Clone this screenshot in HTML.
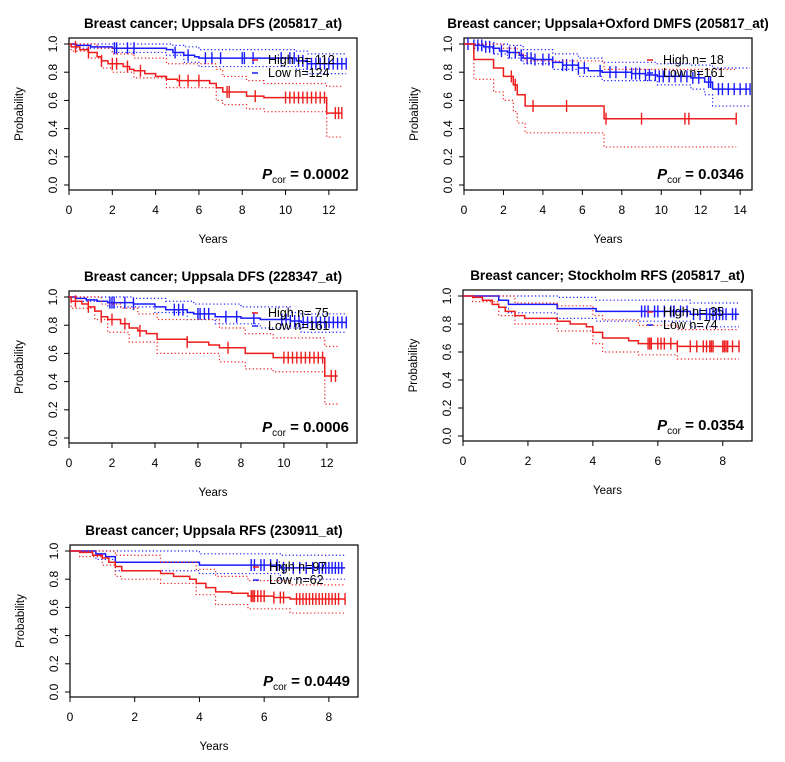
<!DOCTYPE html>
<html><head><meta charset="utf-8">
<style>
html,body{margin:0;padding:0;background:#fff;}
svg{display:block;font-family:"Liberation Sans",Arial,sans-serif;}
</style></head>
<body>
<svg id="chart" width="785" height="762" viewBox="0 0 785 762"></svg>
<script>
// ---- Panel 1 data ----
const p1Title = "Breast cancer; Uppsala DFS (205817_at)";
const p1HighLabel = "High n= 112", p1LowLabel = "Low  n=124", p1P = "0.0002";
const p1HighT = [0,0.1,0.5,0.9,1.3,1.5,1.8,2.5,2.8,3.0,3.5,4.0,4.5,5.0,6.5,6.8,7.1,8.2,9.0,11.9,12.6];
const p1HighS = [1,0.98,0.96,0.94,0.91,0.88,0.86,0.84,0.82,0.81,0.79,0.77,0.75,0.74,0.72,0.69,0.66,0.63,0.62,0.51,0.51];
const p1HighLoT = [0,0.1,0.9,1.5,2.0,3.0,4.5,6.8,7.1,8.2,9.0,11.9,12.6];
const p1HighLoS = [1,0.95,0.9,0.83,0.8,0.76,0.69,0.6,0.57,0.54,0.52,0.34,0.34];
const p1HighUpT = [0,1.3,2.0,3.0,4.5,6.8,7.1,8.2,9.0,11.9,12.6];
const p1HighUpS = [1,0.97,0.93,0.9,0.86,0.82,0.77,0.74,0.72,0.7,0.7];
const p1HighC = [0.3,0.9,1.5,2.0,2.2,2.7,3.3,5.1,5.5,6.0,7.3,7.4,8.6,10.0,10.2,10.4,10.6,10.8,11.0,11.2,11.4,11.6,11.8,12.3,12.45,12.6];
const p1LowT = [0,0.3,1.0,2.0,4.5,4.8,5.3,5.8,6.0,10.5,11.0,12.8];
const p1LowS = [1,0.99,0.98,0.97,0.96,0.94,0.92,0.91,0.90,0.88,0.86,0.86];
const p1LowLoT = [0,0.3,2.0,4.5,5.3,6.0,10.5,11.0,12.8];
const p1LowLoS = [1,0.97,0.94,0.92,0.87,0.84,0.82,0.79,0.79];
const p1LowUpT = [0,4.8,5.3,6.0,10.5,11.0,12.8];
const p1LowUpS = [1,0.99,0.98,0.96,0.95,0.93,0.93];
const p1LowC = [2.1,2.2,2.7,3.0,4.9,5.5,6.3,6.6,7.0,8.0,8.1,8.5,9.8,10.2,10.4,10.6,10.8,11.0,11.2,11.4,11.6,11.8,12.0,12.2,12.4,12.6,12.8];

// ---- Panel 2 data ----
const p2Title = "Breast cancer; Uppsala+Oxford DMFS (205817_at)";
const p2HighLabel = "High n= 18", p2LowLabel = "Low  n=161", p2P = "0.0346";
const p2HighT = [0,0.5,1.5,2.0,2.5,2.7,3.1,7.1,13.8];
const p2HighS = [1,0.89,0.83,0.77,0.71,0.64,0.56,0.47,0.47];
const p2HighLoT = [0,0.5,1.5,2.0,2.5,2.7,3.1,7.1,13.8];
const p2HighLoS = [1,0.75,0.66,0.6,0.52,0.44,0.37,0.27,0.27];
const p2HighUpT = [0,1.5,2.0,2.7,3.1,7.1,13.8];
const p2HighUpS = [1,1,0.97,0.93,0.88,0.82,0.82];
const p2HighC = [2.4,2.6,3.5,5.2,7.2,9.0,11.2,11.4,13.8];
const p2LowT = [0,0.5,1.0,1.5,1.8,2.2,2.8,3.0,3.5,4.5,5.0,5.8,6.3,7.0,8.5,9.2,9.8,11.5,12.2,12.6,14.5];
const p2LowS = [1,0.99,0.98,0.97,0.95,0.94,0.92,0.90,0.89,0.87,0.85,0.83,0.81,0.80,0.79,0.78,0.77,0.76,0.73,0.68,0.68];
const p2LowLoT = [0,0.5,1.5,2.2,3.0,4.5,5.8,7.0,9.8,11.5,12.2,12.6,14.5];
const p2LowLoS = [1,0.97,0.93,0.9,0.86,0.82,0.77,0.74,0.71,0.68,0.64,0.56,0.56];
const p2LowUpT = [0,2.2,3.0,4.5,5.8,7.0,9.8,11.5,12.6,14.5];
const p2LowUpS = [1,0.99,0.96,0.93,0.9,0.87,0.86,0.85,0.83,0.83];
const p2LowC = [0.2,0.5,0.7,0.9,1.1,1.3,1.5,1.9,2.3,2.6,2.9,3.2,3.4,3.6,4.0,4.3,4.5,5.0,5.2,5.5,5.8,6.1,6.9,7.4,7.7,8.2,8.5,8.7,8.9,9.2,9.4,9.7,9.9,10.1,10.4,10.7,11.0,11.3,11.6,11.9,12.4,12.5,12.9,13.1,13.4,13.7,14.0,14.3,14.5];

// ---- Panel 3 data ----
const p3Title = "Breast cancer; Uppsala DFS (228347_at)";
const p3HighLabel = "High n= 75", p3LowLabel = "Low  n=161", p3P = "0.0006";
const p3HighT = [0,0.1,0.6,0.9,1.2,1.5,1.8,2.4,2.8,3.2,3.6,4.1,5.5,6.5,7.0,8.2,9.5,11.9,12.5];
const p3HighS = [1,0.97,0.95,0.93,0.9,0.86,0.84,0.81,0.78,0.76,0.74,0.70,0.68,0.66,0.64,0.60,0.57,0.44,0.44];
const p3HighLoT = [0,0.1,1.2,1.8,2.8,4.1,7.0,8.2,9.5,11.9,12.5];
const p3HighLoS = [1,0.92,0.84,0.75,0.68,0.6,0.54,0.49,0.47,0.24,0.24];
const p3HighUpT = [0,1.5,2.4,3.2,4.1,7.0,8.2,9.5,11.9,12.5];
const p3HighUpS = [1,0.95,0.92,0.88,0.84,0.78,0.74,0.71,0.65,0.65];
const p3HighC = [0.3,0.9,1.5,2.0,2.6,3.3,5.5,7.4,10.0,10.2,10.4,10.6,10.8,11.0,11.2,11.4,11.6,11.8,12.2,12.4];
const p3LowT = [0,0.3,0.8,1.3,1.8,3.0,4.0,4.5,5.5,5.8,6.8,8.0,8.9,10.3,10.8,12.9];
const p3LowS = [1,0.99,0.98,0.97,0.96,0.95,0.93,0.91,0.89,0.88,0.86,0.85,0.84,0.83,0.82,0.82];
const p3LowLoT = [0,0.3,1.8,4.0,5.5,6.8,8.9,10.8,12.9];
const p3LowLoS = [1,0.97,0.93,0.89,0.84,0.81,0.78,0.75,0.75];
const p3LowUpT = [0,3.0,4.5,5.8,8.0,10.3,10.8,12.9];
const p3LowUpS = [1,0.99,0.97,0.95,0.93,0.89,0.88,0.88];
const p3LowC = [1.9,2.0,2.1,2.6,3.0,4.9,5.1,5.3,6.0,6.1,6.3,6.5,7.3,7.8,8.6,9.9,10.1,10.3,10.5,10.7,10.9,11.1,11.3,11.5,11.7,11.9,12.1,12.3,12.5,12.7,12.9];

// ---- Panel 4 data ----
const p4Title = "Breast cancer; Stockholm RFS (205817_at)";
const p4HighLabel = "High n= 35", p4LowLabel = "Low  n=74", p4P = "0.0354";
const p4HighT = [0,0.3,0.6,0.9,1.1,1.3,1.6,1.9,2.9,3.3,3.8,4.0,4.3,5.1,5.4,6.6,8.5];
const p4HighS = [1,0.99,0.97,0.94,0.92,0.89,0.86,0.84,0.82,0.80,0.78,0.74,0.70,0.68,0.66,0.64,0.64];
const p4HighLoT = [0,0.3,1.1,1.6,2.9,4.0,4.3,5.4,6.6,8.5];
const p4HighLoS = [1,0.96,0.86,0.8,0.75,0.66,0.6,0.58,0.55,0.55];
const p4HighUpT = [0,0.9,1.6,2.9,4.0,4.3,5.4,6.6,8.5];
const p4HighUpS = [1,1,0.95,0.93,0.86,0.83,0.79,0.76,0.76];
const p4HighC = [5.7,5.75,5.8,6.0,6.1,6.2,6.4,6.6,7.0,7.2,7.4,7.5,7.6,7.65,7.7,8.0,8.05,8.1,8.15,8.3,8.5];
const p4LowT = [0,1.1,1.4,2.9,4.1,7.0,8.5];
const p4LowS = [1,0.97,0.94,0.91,0.89,0.87,0.87];
const p4LowLoT = [0,1.1,1.4,2.9,4.1,7.0,8.5];
const p4LowLoS = [1,0.92,0.88,0.84,0.82,0.78,0.78];
const p4LowUpT = [0,2.9,4.1,7.0,8.5];
const p4LowUpS = [1,0.99,0.97,0.95,0.95];
const p4LowC = [5.5,5.6,5.7,5.9,6.0,6.2,6.4,6.5,6.7,6.9,7.1,7.3,7.5,7.6,7.7,7.8,7.9,8.0,8.1,8.3,8.4];

// ---- Panel 5 data ----
const p5Title = "Breast cancer; Uppsala RFS (230911_at)";
const p5HighLabel = "High n=97", p5LowLabel = "Low  n=62", p5P = "0.0449";
const p5HighT = [0,0.3,0.7,1.0,1.2,1.4,1.6,2.8,3.2,3.7,3.9,4.2,4.5,5.0,5.5,6.3,6.8,8.5];
const p5HighS = [1,0.99,0.97,0.95,0.92,0.89,0.86,0.84,0.82,0.80,0.77,0.74,0.71,0.70,0.68,0.67,0.66,0.66];
const p5HighLoT = [0,0.3,1.0,1.4,1.6,2.8,3.9,4.5,5.5,6.8,8.5];
const p5HighLoS = [1,0.96,0.9,0.82,0.8,0.77,0.69,0.62,0.59,0.56,0.56];
const p5HighUpT = [0,1.4,2.8,3.9,4.5,5.5,6.8,8.5];
const p5HighUpS = [1,0.97,0.92,0.87,0.82,0.79,0.76,0.76];
const p5HighC = [5.6,5.65,5.7,5.8,5.9,6.0,6.3,6.5,6.6,7.0,7.1,7.2,7.3,7.4,7.5,7.6,7.7,7.8,7.9,8.0,8.1,8.2,8.3,8.5];
const p5LowT = [0,0.8,1.1,1.4,4.0,6.5,8.5];
const p5LowS = [1,0.98,0.96,0.92,0.90,0.88,0.88];
const p5LowLoT = [0,0.8,1.4,4.0,6.5,8.5];
const p5LowLoS = [1,0.94,0.86,0.84,0.8,0.8];
const p5LowUpT = [0,4.0,6.5,8.5];
const p5LowUpS = [1,0.98,0.97,0.97];
const p5LowC = [5.6,5.7,5.9,6.0,6.2,6.4,6.6,6.9,7.1,7.3,7.5,7.7,7.8,7.9,8.0,8.1,8.2,8.3,8.4];

const yTicks = [0,0.2,0.4,0.6,0.8,1.0];
const yTickLabels = ["0.0","0.2","0.4","0.6","0.8","1.0"];

const NS = "http://www.w3.org/2000/svg";
const svg = document.getElementById('chart');
function mk(tag, attrs, parent){
  const e = document.createElementNS(NS, tag);
  for (const k in attrs) e.setAttribute(k, attrs[k]);
  (parent||svg).appendChild(e);
  return e;
}
function stepPath(T, S, sx, sy){
  let d = "M"+sx(T[0])+","+sy(S[0]);
  for (let i=1;i<T.length;i++){ d += " H"+sx(T[i])+" V"+sy(S[i]); }
  return d;
}
function survAt(T,S,t){ let s=S[0]; for(let i=0;i<T.length;i++){ if(T[i]<=t) s=S[i]; } return s; }

function panel(idx, L, T0, R, B, xmax, xTicks, title, hiL, loL, pval, d){
  const g = mk('g', {});
  
  
  const yTop = T0+6, yBot = B-5;
  const sx = t => L + (t/xmax)*(R-L);
  const sy = v => yBot - v*(yBot-yTop);
  const ti = mk('text', {x:(L+R)/2, y:T0-10, 'text-anchor':'middle', 'font-size':'13.5', 'font-weight':'bold', fill:'#000'}, g);
  ti.textContent = title;
  
  
  const bx = mk('rect', {x:L, y:T0, width:R-L, height:B-T0, fill:'none', stroke:'#000', 'stroke-width':'1.2'}, g);
  
  
  const ya = mk('g', {}, g);
  
  
  yTicks.forEach((v,i)=>{
    mk('line',{x1:L,x2:L-5,y1:sy(v),y2:sy(v),stroke:'#000'},ya);
    const tx = mk('text',{x:L-12,y:sy(v),'font-size':'12','text-anchor':'middle',transform:'rotate(-90 '+(L-12)+' '+sy(v)+')',fill:'#000'},ya);
    tx.textContent = yTickLabels[i];
  });
  const yl = mk('text',{x:L-46,y:(T0+B)/2,'font-size':'11.5','text-anchor':'middle',transform:'rotate(-90 '+(L-46)+' '+((T0+B)/2)+')',fill:'#000'},g);
  yl.textContent = "Probability";
  
  
  const xa = mk('g', {}, g);
  
  
  xTicks.forEach(v=>{
    mk('line',{x1:sx(v),x2:sx(v),y1:B,y2:B+5,stroke:'#000'},xa);
    const tx = mk('text',{x:sx(v),y:B+24,'font-size':'12','text-anchor':'middle',fill:'#000'},xa);
    tx.textContent = String(v);
  });
  const xl = mk('text',{x:(L+R)/2,y:B+53,'font-size':'11.5','text-anchor':'middle',fill:'#000'},g);
  xl.textContent = "Years";
  
  
  [['low','#1a1aff',d.low],['high','#ee1c1c',d.high]].forEach(([nm,col,s])=>{
    const sg = mk('g',{},g);
    
    
    mk('path',{d:stepPath(s.loT,s.loS,sx,sy),fill:'none',stroke:col,'stroke-width':'1.2','stroke-dasharray':'1.2,2.4'},sg);
    mk('path',{d:stepPath(s.upT,s.upS,sx,sy),fill:'none',stroke:col,'stroke-width':'1.2','stroke-dasharray':'1.2,2.4'},sg);
    mk('path',{d:stepPath(s.T,s.S,sx,sy),fill:'none',stroke:col,'stroke-width':'1.5'},sg);
    s.C.forEach(c=>{
      const y = sy(survAt(s.T,s.S,c));
      mk('line',{x1:sx(c),x2:sx(c),y1:y-6,y2:y+6,stroke:col,'stroke-width':'1.4'},sg);
    });
  });
  const lg = mk('g',{},g);
  
  
  const lx = R-98;
  mk('line',{x1:lx-7,x2:lx-1,y1:T0+22,y2:T0+22,stroke:'#ee1c1c','stroke-width':'1.5'},lg);
  mk('line',{x1:lx-7,x2:lx-1,y1:T0+35,y2:T0+35,stroke:'#1a1aff','stroke-width':'1.5'},lg);
  const t1 = mk('text',{x:lx+9,y:T0+26,'font-size':'12.5',fill:'#000'},lg); t1.textContent = hiL;
  
  
  const t2 = mk('text',{x:lx+9,y:T0+39,'font-size':'12.5',fill:'#000'},lg); t2.textContent = loL;
  
  
  const pt = mk('text',{x:R-8,y:B-11,'font-size':'15','font-weight':'bold','text-anchor':'end',fill:'#000'},g);
  
  
  const a = mk('tspan',{'font-style':'italic'},pt); a.textContent = "P";
  const b = mk('tspan',{'font-size':'10','font-weight':'normal',dy:'4'},pt); b.textContent = "cor";
  const c = mk('tspan',{dy:'-4'},pt); c.textContent = " = "+pval;
}
function S(T,Sv,loT,loS,upT,upS,C){ return {T:T,S:Sv,loT:loT,loS:loS,upT:upT,upS:upS,C:C}; }

panel(1, 69, 38, 357, 190, 13.3, [0,2,4,6,8,10,12], p1Title, p1HighLabel, p1LowLabel, p1P,
  {high:S(p1HighT,p1HighS,p1HighLoT,p1HighLoS,p1HighUpT,p1HighUpS,p1HighC), low:S(p1LowT,p1LowS,p1LowLoT,p1LowLoS,p1LowUpT,p1LowUpS,p1LowC)});
panel(2, 464, 38, 752, 190, 14.6, [0,2,4,6,8,10,12,14], p2Title, p2HighLabel, p2LowLabel, p2P,
  {high:S(p2HighT,p2HighS,p2HighLoT,p2HighLoS,p2HighUpT,p2HighUpS,p2HighC), low:S(p2LowT,p2LowS,p2LowLoT,p2LowLoS,p2LowUpT,p2LowUpS,p2LowC)});
panel(3, 69, 291, 357, 443, 13.4, [0,2,4,6,8,10,12], p3Title, p3HighLabel, p3LowLabel, p3P,
  {high:S(p3HighT,p3HighS,p3HighLoT,p3HighLoS,p3HighUpT,p3HighUpS,p3HighC), low:S(p3LowT,p3LowS,p3LowLoT,p3LowLoS,p3LowUpT,p3LowUpS,p3LowC)});
panel(4, 463, 290, 752, 441, 8.9, [0,2,4,6,8], p4Title, p4HighLabel, p4LowLabel, p4P,
  {high:S(p4HighT,p4HighS,p4HighLoT,p4HighLoS,p4HighUpT,p4HighUpS,p4HighC), low:S(p4LowT,p4LowS,p4LowLoT,p4LowLoS,p4LowUpT,p4LowUpS,p4LowC)});
panel(5, 70, 545, 358, 697, 8.9, [0,2,4,6,8], p5Title, p5HighLabel, p5LowLabel, p5P,
  {high:S(p5HighT,p5HighS,p5HighLoT,p5HighLoS,p5HighUpT,p5HighUpS,p5HighC), low:S(p5LowT,p5LowS,p5LowLoT,p5LowLoS,p5LowUpT,p5LowUpS,p5LowC)});
</script>
</body></html>
